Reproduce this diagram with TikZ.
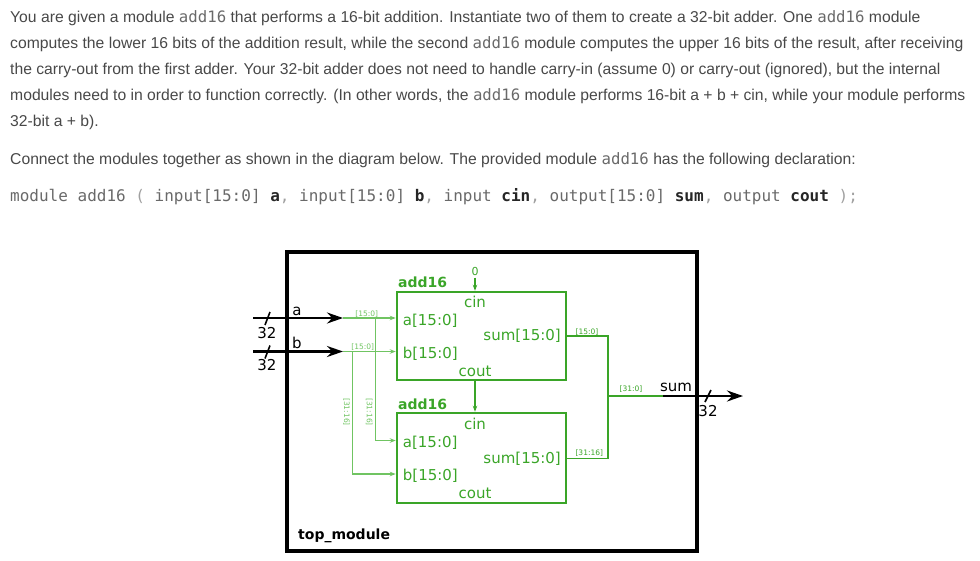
\documentclass[tikz,border=0pt]{standalone}
\usepackage{fontspec}
\setmainfont{Liberation Sans}
\newfontfamily\diagfont{DejaVu Sans}
\newfontfamily\codefont{DejaVu Sans Mono}
\usetikzlibrary{positioning, arrows.meta}

\definecolor{bodygray}{RGB}{72,72,72}
\definecolor{codegray}{RGB}{105,105,105}
\definecolor{pungray}{RGB}{160,160,160}
\definecolor{modgreen}{RGB}{58,165,40}
\definecolor{wiregreen}{RGB}{112,196,98}

\newcommand{\inlcode}[1]{{\codefont\color{codegray}#1}}
\newcommand{\argname}[1]{{\bfseries\color{black!85}#1}}
\newcommand{\pun}[1]{{\color{pungray}#1}}

\tikzset{
  para/.style={anchor=base west, inner sep=0pt, text=bodygray, font=\fontsize{15.7}{18}\selectfont},
  adder/.style={draw=modgreen, line width=2.5pt, minimum width=169pt, minimum height=88pt, inner sep=0pt},
  title/.style={anchor=base west, inner sep=0pt, text=modgreen, font=\diagfont\bfseries\fontsize{14}{16}\selectfont},
  port/.style={inner sep=0pt, text=modgreen, font=\diagfont\fontsize{15}{17}\selectfont},
  pinlabel/.style={inner sep=0pt, anchor=base, font=\diagfont\fontsize{15}{17}\selectfont},
  buslabel/.style={inner sep=0pt, font=\diagfont\fontsize{7.5}{9}\selectfont},
  thick bus/.style={line width=2.5pt, black},
  inwire/.style={line width=1.4pt, wiregreen},
  outwire/.style={line width=1.4pt, modgreen},
  greentip/.style={-{Stealth[length=6pt, width=4.5pt]}},
  blacktip/.style={-{Stealth[length=16pt, width=11pt]}},
  slash/.style={line width=1.6pt, black},
}

\begin{document}
\begin{tikzpicture}[x=1pt, y=-1pt]
  \useasboundingbox (0,0) rectangle (980,560);

  % task text
  \node[para] (l1) at (10,22.5) {You are given a module \inlcode{add16} that performs a 16-bit addition. Instantiate two of them to create a 32-bit adder. One \inlcode{add16} module};
  \node[para] (l2) at (10,48.5) {computes the lower 16 bits of the addition result, while the second \inlcode{add16} module computes the upper 16 bits of the result, after receiving};
  \node[para] (l3) at (10,74.3) {the carry-out from the first adder. Your 32-bit adder does not need to handle carry-in (assume 0) or carry-out (ignored), but the internal};
  \node[para] (l4) at (10,100.2) {modules need to in order to function correctly. (In other words, the \inlcode{add16} module performs 16-bit a + b + cin, while your module performs};
  \node[para] (l5) at (10,126) {32-bit a + b).};
  \node[para] (conn) at (10,164) {Connect the modules together as shown in the diagram below. The provided module \inlcode{add16} has the following declaration:};
  \node[para, font=\codefont\fontsize{16}{18}\selectfont, text=codegray] (decl) at (10,201)
    {module add16 \pun{(} input[15:0] \argname{a}\pun{,} input[15:0] \argname{b}\pun{,} input \argname{cin}\pun{,} output[15:0] \argname{sum}\pun{,} output \argname{cout} \pun{);}};

  % top module frame
  \node[draw, line width=4pt, minimum width=410pt, minimum height=299pt, inner sep=0pt] (top) at (492,401.5) {};
  \node[title, text=black] (toplbl) at (298,539) {top\_module};

  % the two adders
  \node[adder] (add1) at (481.5,336) {};
  \node[adder, minimum height=90pt] (add2) at (481.5,458) {};
  \node[title] (t1) at (398,287.5) {add16};
  \node[title] (t2) at (398,409.3) {add16};

  \node[port, anchor=base] (cin1) at (475,307) {cin};
  \node[port, anchor=base west] (a1) at (402.7,325.5) {a[15:0]};
  \node[port, anchor=base east] (sum1) at (561,340.5) {sum[15:0]};
  \node[port, anchor=base west] (b1) at (402.7,358) {b[15:0]};
  \node[port, anchor=base] (cout1) at (475,376.7) {cout};

  \node[port, anchor=base] (cin2) at (475,429.3) {cin};
  \node[port, anchor=base west] (a2) at (402.7,447.7) {a[15:0]};
  \node[port, anchor=base east] (sum2) at (561,463.3) {sum[15:0]};
  \node[port, anchor=base west] (b2) at (402.7,480) {b[15:0]};
  \node[port, anchor=base] (cout2) at (475,498.3) {cout};

  % carry chain
  \node[port, anchor=base, font=\diagfont\fontsize{11}{12}\selectfont] (zero) at (475,275) {0};
  \coordinate (zerotap) at (475,277.5);
  \draw[outwire, greentip] (zerotap) -- (zerotap |- add1.north);
  \draw[outwire, greentip] (add1.south -| zerotap) -- (add2.north -| zerotap);

  % inputs a and b
  \coordinate (ain) at (253,318);
  \coordinate (atap) at (343,318);
  \coordinate (bin) at (253,351.5);
  \coordinate (btap) at (343,351.5);
  \coordinate (asplit) at (375.5,318);
  \coordinate (bsplit) at (352.5,351.5);
  \draw[thick bus, blacktip] (ain) -- (atap);
  \draw[thick bus, blacktip] (bin) -- (btap);
  \node[pinlabel] (alb) at (297,315) {a};
  \node[pinlabel] (blb) at (297,348.3) {b};
  \draw[slash] (265,325) -- (270,312);
  \draw[slash] (265,358.5) -- (270,345.5);
  \node[pinlabel] (aw) at (267,338) {32};
  \node[pinlabel] (bw) at (267,370.7) {32};

  \draw[inwire, greentip] (atap) -- (atap -| add1.west);
  \draw[inwire, greentip] (btap) -- (btap -| add1.west);
  \draw[inwire, greentip] (asplit) |- (add2.west |- 0,440.5);
  \draw[inwire, greentip] (bsplit) |- (add2.west |- 0,474);
  \node[buslabel, text=wiregreen] at (366.7,314) {[15:0]};
  \node[buslabel, text=wiregreen] at (362.7,346.7) {[15:0]};
  \node[buslabel, text=wiregreen, rotate=-90] at (346.5,412) {[31:16]};
  \node[buslabel, text=wiregreen, rotate=-90] at (369.3,412) {[31:16]};

  % sum output
  \coordinate (sjoin) at (608,396);
  \coordinate (sumtap) at (663,396);
  \coordinate (sumout) at (743,396);
  \draw[outwire] (add1.east |- 0,336) -| (sjoin);
  \draw[outwire] (add2.east |- 0,458.3) -| (sjoin);
  \draw[outwire] (sjoin) -- (sumtap);
  \draw[thick bus, blacktip] (sumtap) -- (sumout);
  \node[buslabel, text=modgreen] at (587,331.7) {[15:0]};
  \node[buslabel, text=modgreen] at (589.3,453.3) {[31:16]};
  \node[buslabel, text=modgreen] at (631,389) {[31:0]};
  \node[pinlabel] (sumlb) at (676,391.7) {sum};
  \draw[slash] (705,402) -- (711,390);
  \node[pinlabel] (sumw) at (708,416.7) {32};
\end{tikzpicture}
\end{document}
